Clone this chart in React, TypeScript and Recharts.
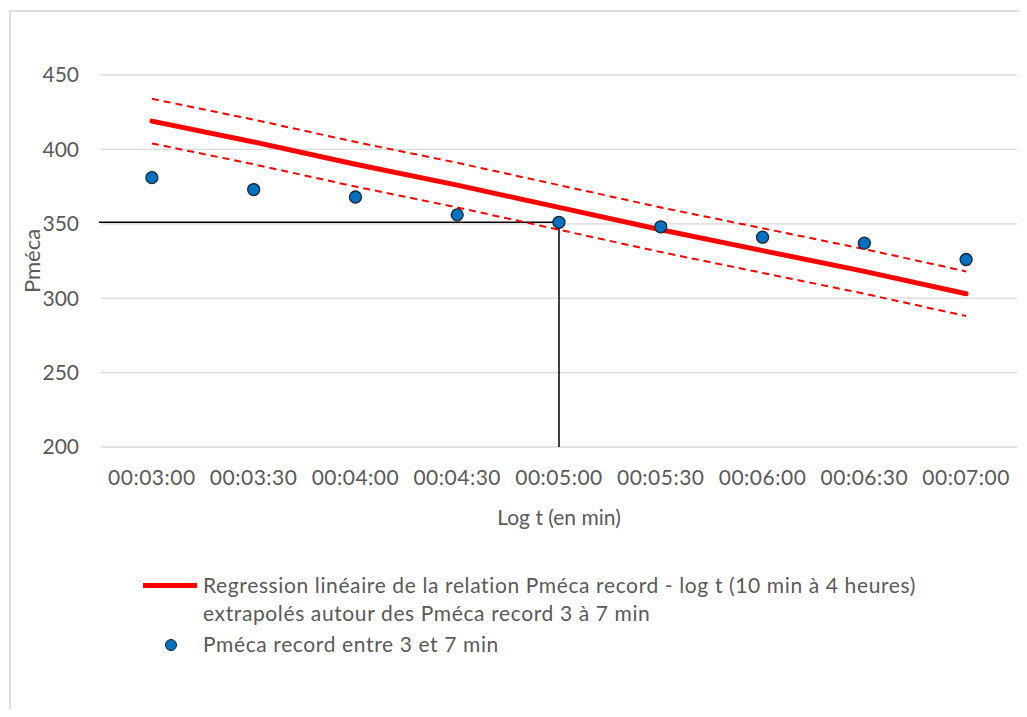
import {
  CartesianGrid,
  Line,
  LineChart,
  ReferenceLine,
  XAxis,
  YAxis,
} from "recharts";

const categories = [
  "00:03:00",
  "00:03:30",
  "00:04:00",
  "00:04:30",
  "00:05:00",
  "00:05:30",
  "00:06:00",
  "00:06:30",
  "00:07:00",
];
const pmecaRecord = [381, 373, 368, 356, 351, 348, 341, 337, 326];
const regression = [419, 405, 390, 376, 361, 346, 332, 318, 303];
const upperBound = [434, 420, 405, 391, 376, 361, 347, 333, 318];
const lowerBound = [404, 390, 375, 361, 346, 331, 317, 303, 288];
const yTicks = [200, 250, 300, 350, 400, 450];

const markedTime = "00:05:00";

const data = categories.map((label, i) => ({
  idx: i,
  label,
  pmeca: pmecaRecord[i],
  reg: regression[i],
  upper: upperBound[i],
  lower: lowerBound[i],
}));

const FONT = "Lato, 'Open Sans', sans-serif";
const GREY = "#595959";

export default function App() {
  const markIdx = categories.indexOf(markedTime);
  const markValue = pmecaRecord[markIdx];

  return (
    <div
      style={{
        position: "relative",
        margin: -8,
        width: 1027,
        height: 717,
        overflow: "hidden",
        background: "#fff",
        fontFamily: FONT,
      }}
    >
      <div
        style={{
          position: "absolute",
          left: 9,
          top: 10,
          width: 1040,
          height: 720,
          border: "2px solid #dcdcdc",
        }}
      />
      <div style={{ position: "absolute", left: 0, top: 0 }}>
        <LineChart
          width={1027}
          height={717}
          data={data}
          margin={{ top: 75, right: 10, bottom: 190, left: 0 }}
        >
          <CartesianGrid vertical={false} stroke="#d9d9d9" strokeWidth={1.3} />
          <XAxis
            dataKey="idx"
            type="number"
            domain={[-0.5, categories.length - 0.5]}
            ticks={categories.map((_, i) => i)}
            tickFormatter={(i: number) => categories[i]}
            interval={0}
            axisLine={false}
            tickLine={false}
            tickSize={0}
            tickMargin={23}
            height={80}
            tick={{ fill: GREY, fontSize: 21, fontFamily: FONT, letterSpacing: 0.5 }}
            label={{
              value: "Log t (en min)",
              position: "insideBottom",
              offset: 2,
              fill: GREY,
              fontSize: 21,
              fontFamily: FONT,
            }}
          />
          <YAxis
            domain={[200, 450]}
            ticks={yTicks}
            axisLine={false}
            tickLine={false}
            tickSize={0}
            tickMargin={22}
            width={101}
            tick={{ fill: GREY, fontSize: 21, fontFamily: FONT }}
            label={{
              value: "Pméca",
              angle: -90,
              position: "insideLeft",
              offset: 32,
              fill: GREY,
              fontSize: 22,
              fontFamily: FONT,
              style: { textAnchor: "middle" },
            }}
          />
          <ReferenceLine
            segment={[
              { x: -0.52, y: markValue },
              { x: markIdx, y: markValue },
            ]}
            stroke="#000"
            strokeWidth={1.5}
            ifOverflow="visible"
          />
          <ReferenceLine
            segment={[
              { x: markIdx, y: markValue },
              { x: markIdx, y: 200 },
            ]}
            stroke="#000"
            strokeWidth={1.5}
          />
          <Line
            dataKey="upper"
            stroke="#ff0000"
            strokeWidth={2}
            strokeDasharray="7 5"
            dot={false}
            activeDot={false}
            isAnimationActive={false}
          />
          <Line
            dataKey="lower"
            stroke="#ff0000"
            strokeWidth={2}
            strokeDasharray="7 5"
            dot={false}
            activeDot={false}
            isAnimationActive={false}
          />
          <Line
            dataKey="reg"
            stroke="#ff0000"
            strokeWidth={5}
            strokeLinecap="round"
            dot={false}
            activeDot={false}
            isAnimationActive={false}
          />
          <Line
            dataKey="pmeca"
            stroke="none"
            dot={{ r: 6, fill: "#0070C0", stroke: "#1a2530", strokeWidth: 1.3 }}
            activeDot={false}
            isAnimationActive={false}
          />
        </LineChart>
      </div>

      {/* legend */}
      <div
        style={{
          position: "absolute",
          left: 143,
          top: 583,
          width: 54,
          height: 5,
          background: "#ff0000",
        }}
      />
      <div
        style={{
          position: "absolute",
          left: 203,
          top: 571,
          color: GREY,
          fontSize: 21,
          lineHeight: "28px",
          letterSpacing: 0.62,
          whiteSpace: "nowrap",
        }}
      >
        <div>Regression linéaire de la relation Pméca record - log t (10 min à 4 heures)</div>
        <div>extrapolés autour des Pméca record 3 à 7 min</div>
      </div>
      <div
        style={{
          position: "absolute",
          left: 165,
          top: 639,
          width: 10,
          height: 10,
          borderRadius: "50%",
          background: "#0070C0",
          border: "1.3px solid #1a2530",
        }}
      />
      <div
        style={{
          position: "absolute",
          left: 203,
          top: 630,
          color: GREY,
          fontSize: 21,
          lineHeight: "28px",
          letterSpacing: 0.62,
          whiteSpace: "nowrap",
        }}
      >
        Pméca record entre 3 et 7 min
      </div>
    </div>
  );
}
